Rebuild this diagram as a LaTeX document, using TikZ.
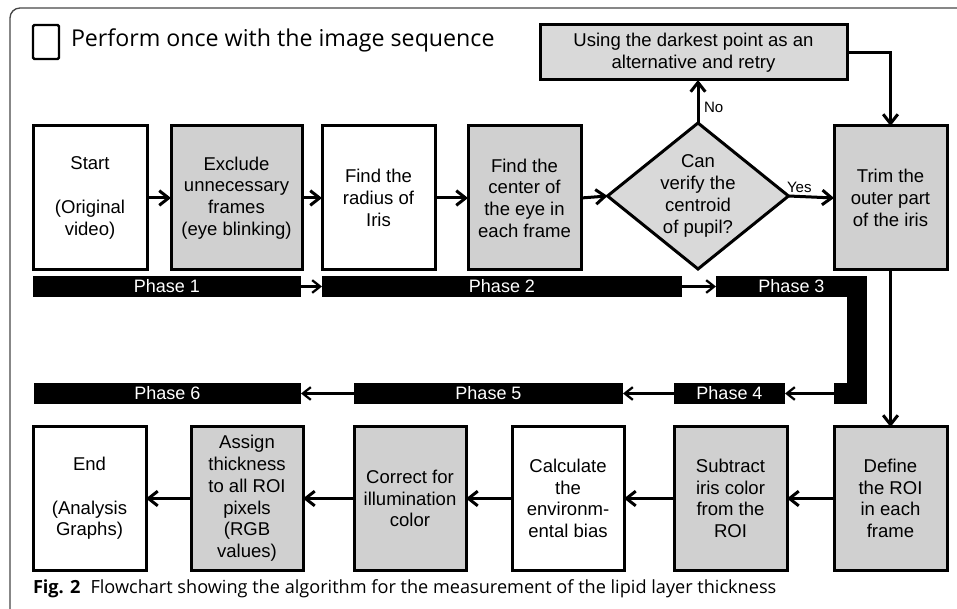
\documentclass[tikz,border=0pt]{standalone}
\usepackage{fontspec}
\setmainfont{Liberation Sans}
\newfontfamily\capfont{Open Sans}
\usetikzlibrary{arrows.meta,shapes.geometric}
\definecolor{boxgray}{RGB}{208,208,208}
\definecolor{lightgray2}{RGB}{217,217,217}
\definecolor{framegray}{RGB}{70,70,70}

\begin{document}
\begin{tikzpicture}[x=0.75pt,y=-0.75pt,
  every node/.style={inner sep=0pt, outer sep=0pt},
  wpx/.style={minimum width=#1*0.75pt},
  hpx/.style={minimum height=#1*0.75pt},
  stepbox/.style={draw, line width=2.25pt, align=center,
    font=\fontsize{13.9}{16.3}\selectfont, hpx=144},
  whitebox/.style={stepbox, fill=white},
  graybox/.style={stepbox, fill=boxgray},
  phasebar/.style={fill=black, text=white, hpx=21,
    font=\fontsize{13.5}{16}\selectfont},
  flow/.style={line width=2.25pt, -{Straight Barb[length=7pt,width=11pt]}},
  phaseflow/.style={line width=1.7pt, -{Straight Barb[length=6pt,width=9.5pt]}},
  smalllabel/.style={font=\fontsize{11.3}{13}\selectfont}
]
\useasboundingbox (0,0) rectangle (957,609);

% outer frame
\draw[framegray, line width=1pt, rounded corners=7.5pt] (10,609) -- (10,8) -- (957,8);

% key
\node[draw, line width=1.8pt, rounded corners=1pt, wpx=26, hpx=34] (key) at (46,42) {};
\node[anchor=west, font=\capfont\fontsize{17.4}{20}\selectfont] (keytext) at (71,40)
  {Perform once with the image sequence};

% first row
\node[whitebox, wpx=114] (start) at (90,198) {Start\\[16.3pt](Original\\video)};
\node[graybox, wpx=131] (exclude) at (236.5,198) {Exclude\\unnecessary\\frames\\(eye blinking)};
\node[whitebox, wpx=113] (radius) at (378.5,198) {Find the\\radius of\\Iris};
\node[graybox, wpx=113] (center) at (524.5,198) {Find the\\center of\\the eye in\\each frame};
\node[diamond, draw, line width=2.25pt, fill=lightgray2, aspect=1.24,
  wpx=181, hpx=146, align=center, font=\fontsize{13.9}{16.3}\selectfont]
  (verify) at (698,196) {Can\\verify the\\centroid\\of pupil?};
\node[graybox, wpx=113] (trim) at (890.5,198) {Trim the\\outer part\\of the iris};
\node[draw, line width=2.25pt, fill=lightgray2, wpx=307, hpx=55, align=center,
  font=\fontsize{13.9}{16.3}\selectfont] (retry) at (693.5,52.5)
  {Using the darkest point as an\\alternative and retry};

\draw[flow] (start) -- (exclude);
\draw[flow] (exclude) -- (radius);
\draw[flow] (radius) -- (center);
\draw[flow] (center.east) -- (verify.west);
\draw[flow] (verify.east) -- (trim.west);
\draw[flow] (verify.north) -- (verify.north |- retry.south);
\draw[flow] (retry.east) -| (trim.north);
\node[smalllabel, anchor=west] (yes) at (787,187) {Yes};
\node[smalllabel, anchor=west] (no) at (704,107) {No};

% phase bars
\node[phasebar, wpx=268] (p1) at (167,286.5) {Phase 1};
\node[phasebar, wpx=360] (p2) at (502,286.5) {Phase 2};
\node[phasebar, wpx=151] (p3) at (791.5,286.5) {Phase 3};
\fill (847,290) rectangle (867,404);
\node[fill=black, wpx=33, hpx=21] (p3foot) at (850.5,393.5) {};
\node[phasebar, wpx=111] (p4) at (729.5,393.5) {Phase 4};
\node[phasebar, wpx=269] (p5) at (488.5,393.5) {Phase 5};
\node[phasebar, wpx=267] (p6) at (167.5,393.5) {Phase 6};

\draw[phaseflow] (p1) -- (p2);
\draw[phaseflow] (p2) -- (p3);
\draw[phaseflow] (p3foot) -- (p4);
\draw[phaseflow] (p4) -- (p5);
\draw[phaseflow] (p5) -- (p6);

% second row
\node[graybox, wpx=113, hpx=143] (define) at (890.5,498.5) {Define\\the ROI\\in each\\frame};
\node[graybox, wpx=113, hpx=143] (subtract) at (730.5,498.5) {Subtract\\iris color\\from the\\ROI};
\node[whitebox, wpx=112, hpx=143] (calc) at (568,498.5) {Calculate\\the\\environm-\\ental bias};
\node[graybox, wpx=112, hpx=143] (correct) at (410,498.5) {Correct for\\illumination\\color};
\node[graybox, wpx=112, hpx=143] (assign) at (247,498.5) {Assign\\thickness\\to all ROI\\pixels\\(RGB\\values)};
\node[whitebox, wpx=113, hpx=143] (finish) at (89.5,498.5) {End\\[16.3pt](Analysis\\Graphs)};

\draw[flow] (trim) -- (define);
\draw[flow] (define) -- (subtract);
\draw[flow] (subtract) -- (calc);
\draw[flow] (calc) -- (correct);
\draw[flow] (correct) -- (assign);
\draw[flow] (assign) -- (finish);

% caption
\node[anchor=west, font=\capfont\fontsize{13.6}{16}\selectfont] (caption) at (33,589)
  {\textbf{Fig. 2}\hspace{0.55em}Flowchart showing the algorithm for the measurement of the lipid layer thickness};
\end{tikzpicture}
\end{document}
